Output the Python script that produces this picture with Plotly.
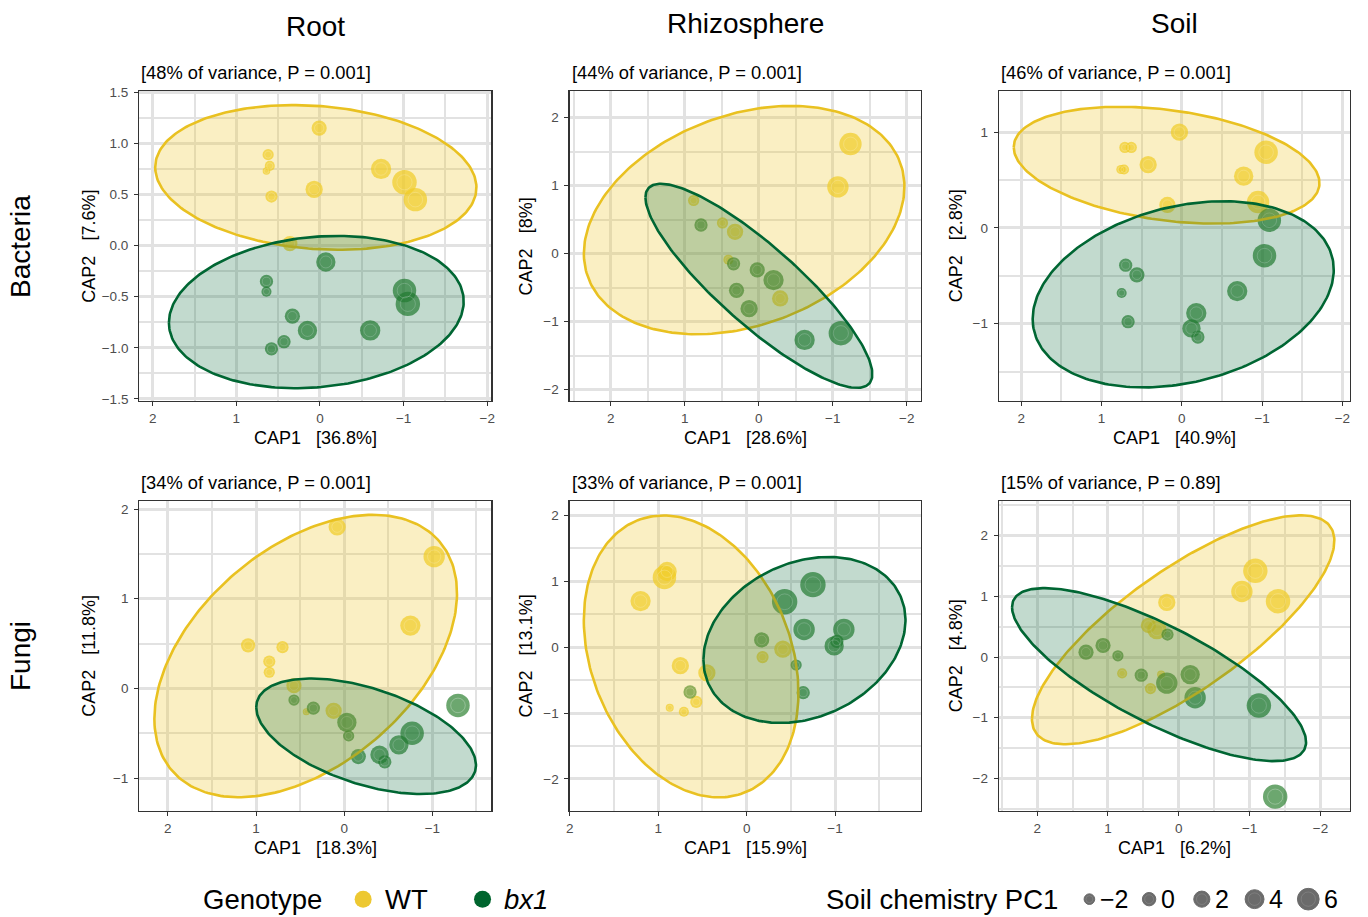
import numpy as np
import plotly.graph_objects as go

W, H = 1368, 917

# ---------------- data ----------------
COLUMNS = ["Root", "Rhizosphere", "Soil"]
ROWS = ["Bacteria", "Fungi"]

SUBTITLES = ["[48% of variance, P = 0.001]", "[44% of variance, P = 0.001]", "[46% of variance, P = 0.001]",
             "[34% of variance, P = 0.001]", "[33% of variance, P = 0.001]", "[15% of variance, P = 0.89]"]
CAP1_LABELS = ["36.8%", "28.6%", "40.9%", "18.3%", "15.9%", "6.2%"]
CAP2_LABELS = ["7.6%", "8%", "2.8%", "11.8%", "13.1%", "4.8%"]

# Root / Bacteria
RB_WT_X = [0.01, 0.62, 0.60, 0.64, -0.73, -1.01, -1.14, 0.07, 0.58, 0.36]
RB_WT_Y = [1.15, 0.89, 0.78, 0.73, 0.75, 0.62, 0.45, 0.55, 0.48, 0.02]
RB_WT_PC1 = [1.3, -1.6, -2.4, -4.2, 5.0, 8.0, 7.3, 2.8, -0.9, 1.3]
RB_BX_X = [-0.07, 0.64, 0.64, -1.01, -1.05, 0.33, 0.15, -0.60, 0.43, 0.58]
RB_BX_Y = [-0.16, -0.35, -0.45, -0.44, -0.57, -0.69, -0.83, -0.83, -0.94, -1.01]
RB_BX_PC1 = [4.3, -0.1, -2.4, 7.3, 8.0, 1.3, 4.3, 5.0, -0.1, -0.1]

# Rhizosphere / Bacteria
ZB_WT_X = [-1.24, -1.07, 0.88, 0.49, 0.32, 0.41, -0.29]
ZB_WT_Y = [1.61, 0.98, 0.78, 0.45, 0.32, -0.09, -0.66]
ZB_WT_PC1 = [6.5, 5.8, -1.6, -1.6, 2.1, -2.4, 2.1]
ZB_BX_X = [0.78, 0.34, 0.02, -0.20, 0.30, 0.13, -0.62, -1.11]
ZB_BX_Y = [0.42, -0.15, -0.24, -0.39, -0.54, -0.81, -1.27, -1.17]
ZB_BX_PC1 = [-0.1, -0.1, 1.3, 5.0, 1.3, 2.8, 5.0, 8.0]

# Soil / Bacteria
SB_WT_X = [0.03, 0.71, 0.63, 0.42, 0.76, 0.72, -1.05, -0.77, -0.95, 0.18]
SB_WT_Y = [1.00, 0.84, 0.84, 0.66, 0.61, 0.61, 0.79, 0.54, 0.27, 0.24]
SB_WT_PC1 = [2.8, -1.6, -1.6, 2.8, -3.1, -2.4, 7.3, 4.3, 6.5, 2.1]
SB_BX_X = [-1.09, -1.03, 0.70, 0.56, 0.75, -0.69, -0.18, 0.67, -0.12, -0.20]
SB_BX_Y = [0.08, -0.29, -0.39, -0.49, -0.68, -0.66, -0.89, -0.98, -1.05, -1.14]
SB_BX_PC1 = [7.3, 7.3, -0.1, 1.3, -2.4, 5.0, 5.0, -0.1, 3.6, -0.1]

# Root / Fungi
RF_WT_X = [0.08, -1.02, -0.75, 1.09, 0.70, 0.85, 0.85, 0.57, 0.43, 0.12]
RF_WT_Y = [1.80, 1.47, 0.70, 0.48, 0.46, 0.30, 0.18, 0.03, -0.26, -0.25]
RF_WT_PC1 = [2.8, 5.8, 5.0, 0.6, -0.9, -0.9, -1.6, 1.3, -4.6, 2.1]
RF_BX_X = [0.57, 0.35, -0.03, -0.05, -0.16, -0.77, -0.62, -0.40, -0.46, -1.29]
RF_BX_Y = [-0.13, -0.22, -0.38, -0.53, -0.76, -0.50, -0.63, -0.74, -0.82, -0.19]
RF_BX_PC1 = [-1.6, -0.1, 4.3, -1.6, 1.3, 7.3, 4.3, 3.6, -0.1, 7.3]

# Rhizosphere / Fungi
ZF_WT_X = [0.90, 0.93, 1.20, -0.41, -0.18, 0.75, 0.45, 0.57, 0.87, 0.71]
ZF_WT_Y = [1.15, 1.06, 0.70, -0.03, -0.15, -0.28, -0.39, -0.83, -0.92, -0.98]
ZF_WT_PC1 = [4.3, 7.3, 5.0, 2.8, -0.9, 2.8, 2.8, -0.9, -3.9, -2.4]
ZF_BX_X = [-0.75, -0.43, -0.65, -1.10, -0.17, -0.99, -1.02, -0.56, 0.64, -0.64]
ZF_BX_Y = [0.95, 0.69, 0.27, 0.27, 0.11, 0.02, 0.09, -0.27, -0.68, -0.69]
ZF_BX_PC1 = [8.7, 8.7, 5.8, 5.8, 1.3, 4.3, -0.1, -1.6, -0.1, -0.1]

# Soil / Fungi
SF_WT_X = [-1.08, -0.89, -1.40, 0.17, 0.43, 0.31, 0.80, 0.25, 0.40]
SF_WT_Y = [1.42, 1.08, 0.92, 0.90, 0.52, 0.45, -0.27, -0.29, -0.52]
SF_WT_PC1 = [8.0, 5.8, 8.0, 2.8, 1.3, 4.3, -2.4, -3.9, -1.6]
SF_BX_X = [0.16, 1.07, 1.31, 0.86, 0.53, -0.16, 0.17, -0.23, -1.13, -1.36]
SF_BX_Y = [0.37, 0.19, 0.08, 0.02, -0.30, -0.29, -0.43, -0.67, -0.80, -2.30]
SF_BX_PC1 = [-0.9, 1.3, 1.3, -1.6, -0.1, 4.3, 5.8, 5.8, 8.0, 8.0]

# Confidence ellipses: centre x, centre y, half-extent x, half-extent y, correlation
RB_WT_ELL = [0.05, 0.667, 1.92, 0.708, 0.14]
RB_BX_ELL = [0.044, -0.65, 1.762, 0.745, -0.14]
ZB_WT_ELL = [0.197, 0.492, 2.166, 1.678, -0.293]
ZB_BX_ELL = [-0.002, -0.474, 1.533, 1.5, 0.865]
SB_WT_ELL = [0.19, 0.655, 1.905, 0.61, 0.307]
SB_BX_ELL = [-0.017, -0.694, 1.876, 0.972, -0.265]
RF_WT_ELL = [0.437, 0.361, 1.716, 1.575, -0.444]
RF_BX_ELL = [-0.248, -0.534, 1.246, 0.644, 0.5]
ZF_WT_ELL = [0.628, -0.14, 1.214, 2.14, 0.257]
ZF_BX_ELL = [-0.654, 0.11, 1.143, 1.26, -0.238]
SF_WT_ELL = [-0.061, 0.448, 2.134, 1.886, -0.778]
SF_BX_ELL = [0.279, -0.29, 2.075, 1.425, 0.78]

SIZE_BREAKS = [-2, 0, 2, 4, 6]
GENOTYPES = ["WT", "bx1"]

# ---------------- styling ----------------
FONT = "Liberation Sans, Arial, Helvetica, sans-serif"
WT_PT = "rgb(242,206,36)"
BX_PT = "rgb(46,130,50)"
WT_LINE = "#E9C121"
BX_LINE = "#006633"
WT_FILL = "rgba(236,196,40,0.28)"
BX_FILL = "rgba(0,102,51,0.24)"
GRID = "#E2E2E2"

COL_PX = [(137, 491), (569.5, 922.5), (1001, 1353.5)]
ROW_PX = [(86, 400), (501, 815)]

AXES = [  # x range, y range, y dtick, y tickformat
    dict(xr=[2.16, -2.05], yr=[-1.522, 1.513], ydt=0.5, yf=".1f"),
    dict(xr=[2.556, -2.19], yr=[-2.17, 2.39], ydt=1, yf=""),
    dict(xr=[2.28, -2.09], yr=[-1.81, 1.43], ydt=1, yf=""),
    dict(xr=[2.324, -1.67], yr=[-1.37, 2.09], ydt=1, yf=""),
    dict(xr=[2.003, -1.97], yr=[-2.49, 2.22], ydt=1, yf=""),
    dict(xr=[2.54, -2.41], yr=[-2.54, 2.57], ydt=1, yf=""),
]

PANELS = [
    (RB_WT_X, RB_WT_Y, RB_WT_PC1, RB_BX_X, RB_BX_Y, RB_BX_PC1, RB_WT_ELL, RB_BX_ELL),
    (ZB_WT_X, ZB_WT_Y, ZB_WT_PC1, ZB_BX_X, ZB_BX_Y, ZB_BX_PC1, ZB_WT_ELL, ZB_BX_ELL),
    (SB_WT_X, SB_WT_Y, SB_WT_PC1, SB_BX_X, SB_BX_Y, SB_BX_PC1, SB_WT_ELL, SB_BX_ELL),
    (RF_WT_X, RF_WT_Y, RF_WT_PC1, RF_BX_X, RF_BX_Y, RF_BX_PC1, RF_WT_ELL, RF_BX_ELL),
    (ZF_WT_X, ZF_WT_Y, ZF_WT_PC1, ZF_BX_X, ZF_BX_Y, ZF_BX_PC1, ZF_WT_ELL, ZF_BX_ELL),
    (SF_WT_X, SF_WT_Y, SF_WT_PC1, SF_BX_X, SF_BX_Y, SF_BX_PC1, SF_WT_ELL, SF_BX_ELL),
]


def size_px(v):
    return [13.4 + 1.38 * x for x in v]


def ellipse(p, n=240):
    cx, cy, rx, ry, rho = p
    t = np.linspace(0, 2 * np.pi, n)
    return cx + rx * np.cos(t), cy + ry * (rho * np.cos(t) + np.sqrt(1 - rho ** 2) * np.sin(t))


def fx(px):
    return px / W


def fy(py):
    return 1 - py / H


fig = go.Figure()
layout = {}
annotations = []

for i, (wx, wy, wp, bx, by, bp, we, be) in enumerate(PANELS):
    r, c = divmod(i, 3)
    k = "" if i == 0 else str(i + 1)
    xa, ya = "x" + k, "y" + k
    ax = AXES[i]
    common = dict(showline=True, mirror=True, linecolor="#333333", linewidth=1.2,
                  ticks="outside", ticklen=4, tickwidth=1, tickcolor="#333333",
                  showgrid=True, gridcolor=GRID, gridwidth=3, zeroline=False,
                  tickfont=dict(family=FONT, size=13.5, color="#4D4D4D"))
    layout["xaxis" + k] = dict(common, domain=[fx(COL_PX[c][0]), fx(COL_PX[c][1])], range=ax["xr"],
                               anchor=ya, tick0=0, dtick=1,
                               minor=dict(tick0=0, dtick=0.5, showgrid=True, gridcolor=GRID, gridwidth=2, ticks=""))
    layout["yaxis" + k] = dict(common, domain=[fy(ROW_PX[r][1]), fy(ROW_PX[r][0])], range=ax["yr"],
                               anchor=xa, tick0=0, dtick=ax["ydt"], tickformat=ax["yf"], ticklabelstandoff=3,
                               minor=dict(tick0=0, dtick=ax["ydt"] / 2, showgrid=True, gridcolor=GRID, gridwidth=2, ticks=""))

    for X, Y, P, col in ((wx, wy, wp, WT_PT), (bx, by, bp, BX_PT)):
        s = size_px(P)
        fig.add_trace(go.Scatter(x=X, y=Y, mode="markers", xaxis=xa, yaxis=ya, showlegend=False, hoverinfo="skip",
                                 marker=dict(size=s, color=col, line=dict(width=0))))
        fig.add_trace(go.Scatter(x=X, y=Y, mode="markers", xaxis=xa, yaxis=ya, showlegend=False, hoverinfo="skip",
                                 marker=dict(size=[v * 0.62 for v in s], symbol="circle-open",
                                             color="rgba(255,255,255,0.5)", line=dict(width=0.8))))
    for E, lc, fc in ((we, WT_LINE, WT_FILL), (be, BX_LINE, BX_FILL)):
        ex, ey = ellipse(E)
        fig.add_trace(go.Scatter(x=ex, y=ey, mode="lines", fill="toself", fillcolor=fc, xaxis=xa, yaxis=ya,
                                 line=dict(color=lc, width=2.6), showlegend=False, hoverinfo="skip"))

    x0, x1 = COL_PX[c]
    y0, y1 = ROW_PX[r]
    annotations.append(dict(text=SUBTITLES[i], x=fx(x0), y=fy(y0 - 19), xanchor="left", yanchor="middle",
                            font=dict(size=18.3, color="black")))
    annotations.append(dict(text="CAP1\u00a0\u00a0\u00a0[" + CAP1_LABELS[i] + "]", x=fx((x0 + x1) / 2), y=fy(y1 + 37),
                            xanchor="center", yanchor="middle", font=dict(size=18, color="black")))
    ycap_x = [87, 526, 958][c]
    annotations.append(dict(text="CAP2\u00a0\u00a0\u00a0[" + CAP2_LABELS[i] + "]", x=fx(ycap_x), y=fy((y0 + y1) / 2),
                            xanchor="center", yanchor="middle", textangle=-90, font=dict(size=18, color="black")))

# column and row titles
for c, (name, ypx) in enumerate(zip(COLUMNS, [21, 17.5, 17.5])):
    annotations.append(dict(text=name, x=fx(sum(COL_PX[c]) / 2), y=fy(ypx), xanchor="center", yanchor="middle",
                            font=dict(size=28, color="black")))
for r, name in enumerate(ROWS):
    annotations.append(dict(text=name, x=fx(17), y=fy(sum(ROW_PX[r]) / 2), xanchor="center", yanchor="middle",
                            textangle=-90, font=dict(size=28, color="black")))

# ---------------- bottom legend (helper axis in pixel units) ----------------
LEG_Y = 904
layout["xaxis7"] = dict(domain=[0, 1], range=[0, W], visible=False, fixedrange=True, anchor="y7")
layout["yaxis7"] = dict(domain=[fy(LEG_Y + 12), fy(LEG_Y - 12)], range=[0, 1], visible=False, fixedrange=True, anchor="x7")

GENO_KEY_PX = [362, 482]
GENO_COLORS = ["#EDC832", "#00652E"]
fig.add_trace(go.Scatter(x=GENO_KEY_PX, y=[0.5, 0.5], mode="markers", xaxis="x7", yaxis="y7", showlegend=False,
                         hoverinfo="skip", marker=dict(size=17, color=GENO_COLORS)))
annotations.append(dict(text="Genotype", x=fx(199), y=fy(LEG_Y), xanchor="left", yanchor="middle",
                        font=dict(size=27.5, color="black")))
for g, kx in zip(GENOTYPES, GENO_KEY_PX):
    label = "<i>" + g + "</i>" if g == "bx1" else g
    annotations.append(dict(text=label, x=fx(kx + 20), y=fy(LEG_Y), xanchor="left", yanchor="middle",
                            font=dict(size=27.5, color="black")))

SIZE_KEY_PX = [1092, 1152, 1205, 1258, 1312]
ks = size_px(SIZE_BREAKS)
fig.add_trace(go.Scatter(x=SIZE_KEY_PX, y=[0.5] * 5, mode="markers", xaxis="x7", yaxis="y7", showlegend=False,
                         hoverinfo="skip", marker=dict(size=ks, color="rgb(45,45,45)",
                                                       line=dict(width=1, color="rgb(45,45,45)"))))
fig.add_trace(go.Scatter(x=SIZE_KEY_PX, y=[0.5] * 5, mode="markers", xaxis="x7", yaxis="y7", showlegend=False,
                         hoverinfo="skip", marker=dict(size=[v * 0.66 for v in ks], symbol="circle-open",
                                                       color="rgba(255,255,255,0.22)", line=dict(width=0.8))))
annotations.append(dict(text="Soil chemistry PC1", x=fx(825), y=fy(LEG_Y), xanchor="left", yanchor="middle",
                        font=dict(size=27.5, color="black")))
for b, kx, d in zip(SIZE_BREAKS, SIZE_KEY_PX, ks):
    annotations.append(dict(text=str(b).replace("-", "\u2212"), x=fx(kx + d / 2 + 3), y=fy(LEG_Y), xanchor="left",
                            yanchor="middle", font=dict(size=25, color="black")))

for a in annotations:
    a.update(xref="paper", yref="paper", showarrow=False)

fig.update_layout(width=W, height=H, autosize=False, margin=dict(l=0, r=0, t=0, b=0),
                  paper_bgcolor="white", plot_bgcolor="white", hovermode=False,
                  font=dict(family=FONT, color="black"), annotations=annotations, **layout)

fig.write_html("out.html", config={"displayModeBar": False, "staticPlot": True},
               post_script="document.body.style.margin='0px';document.body.style.overflow='hidden';")
